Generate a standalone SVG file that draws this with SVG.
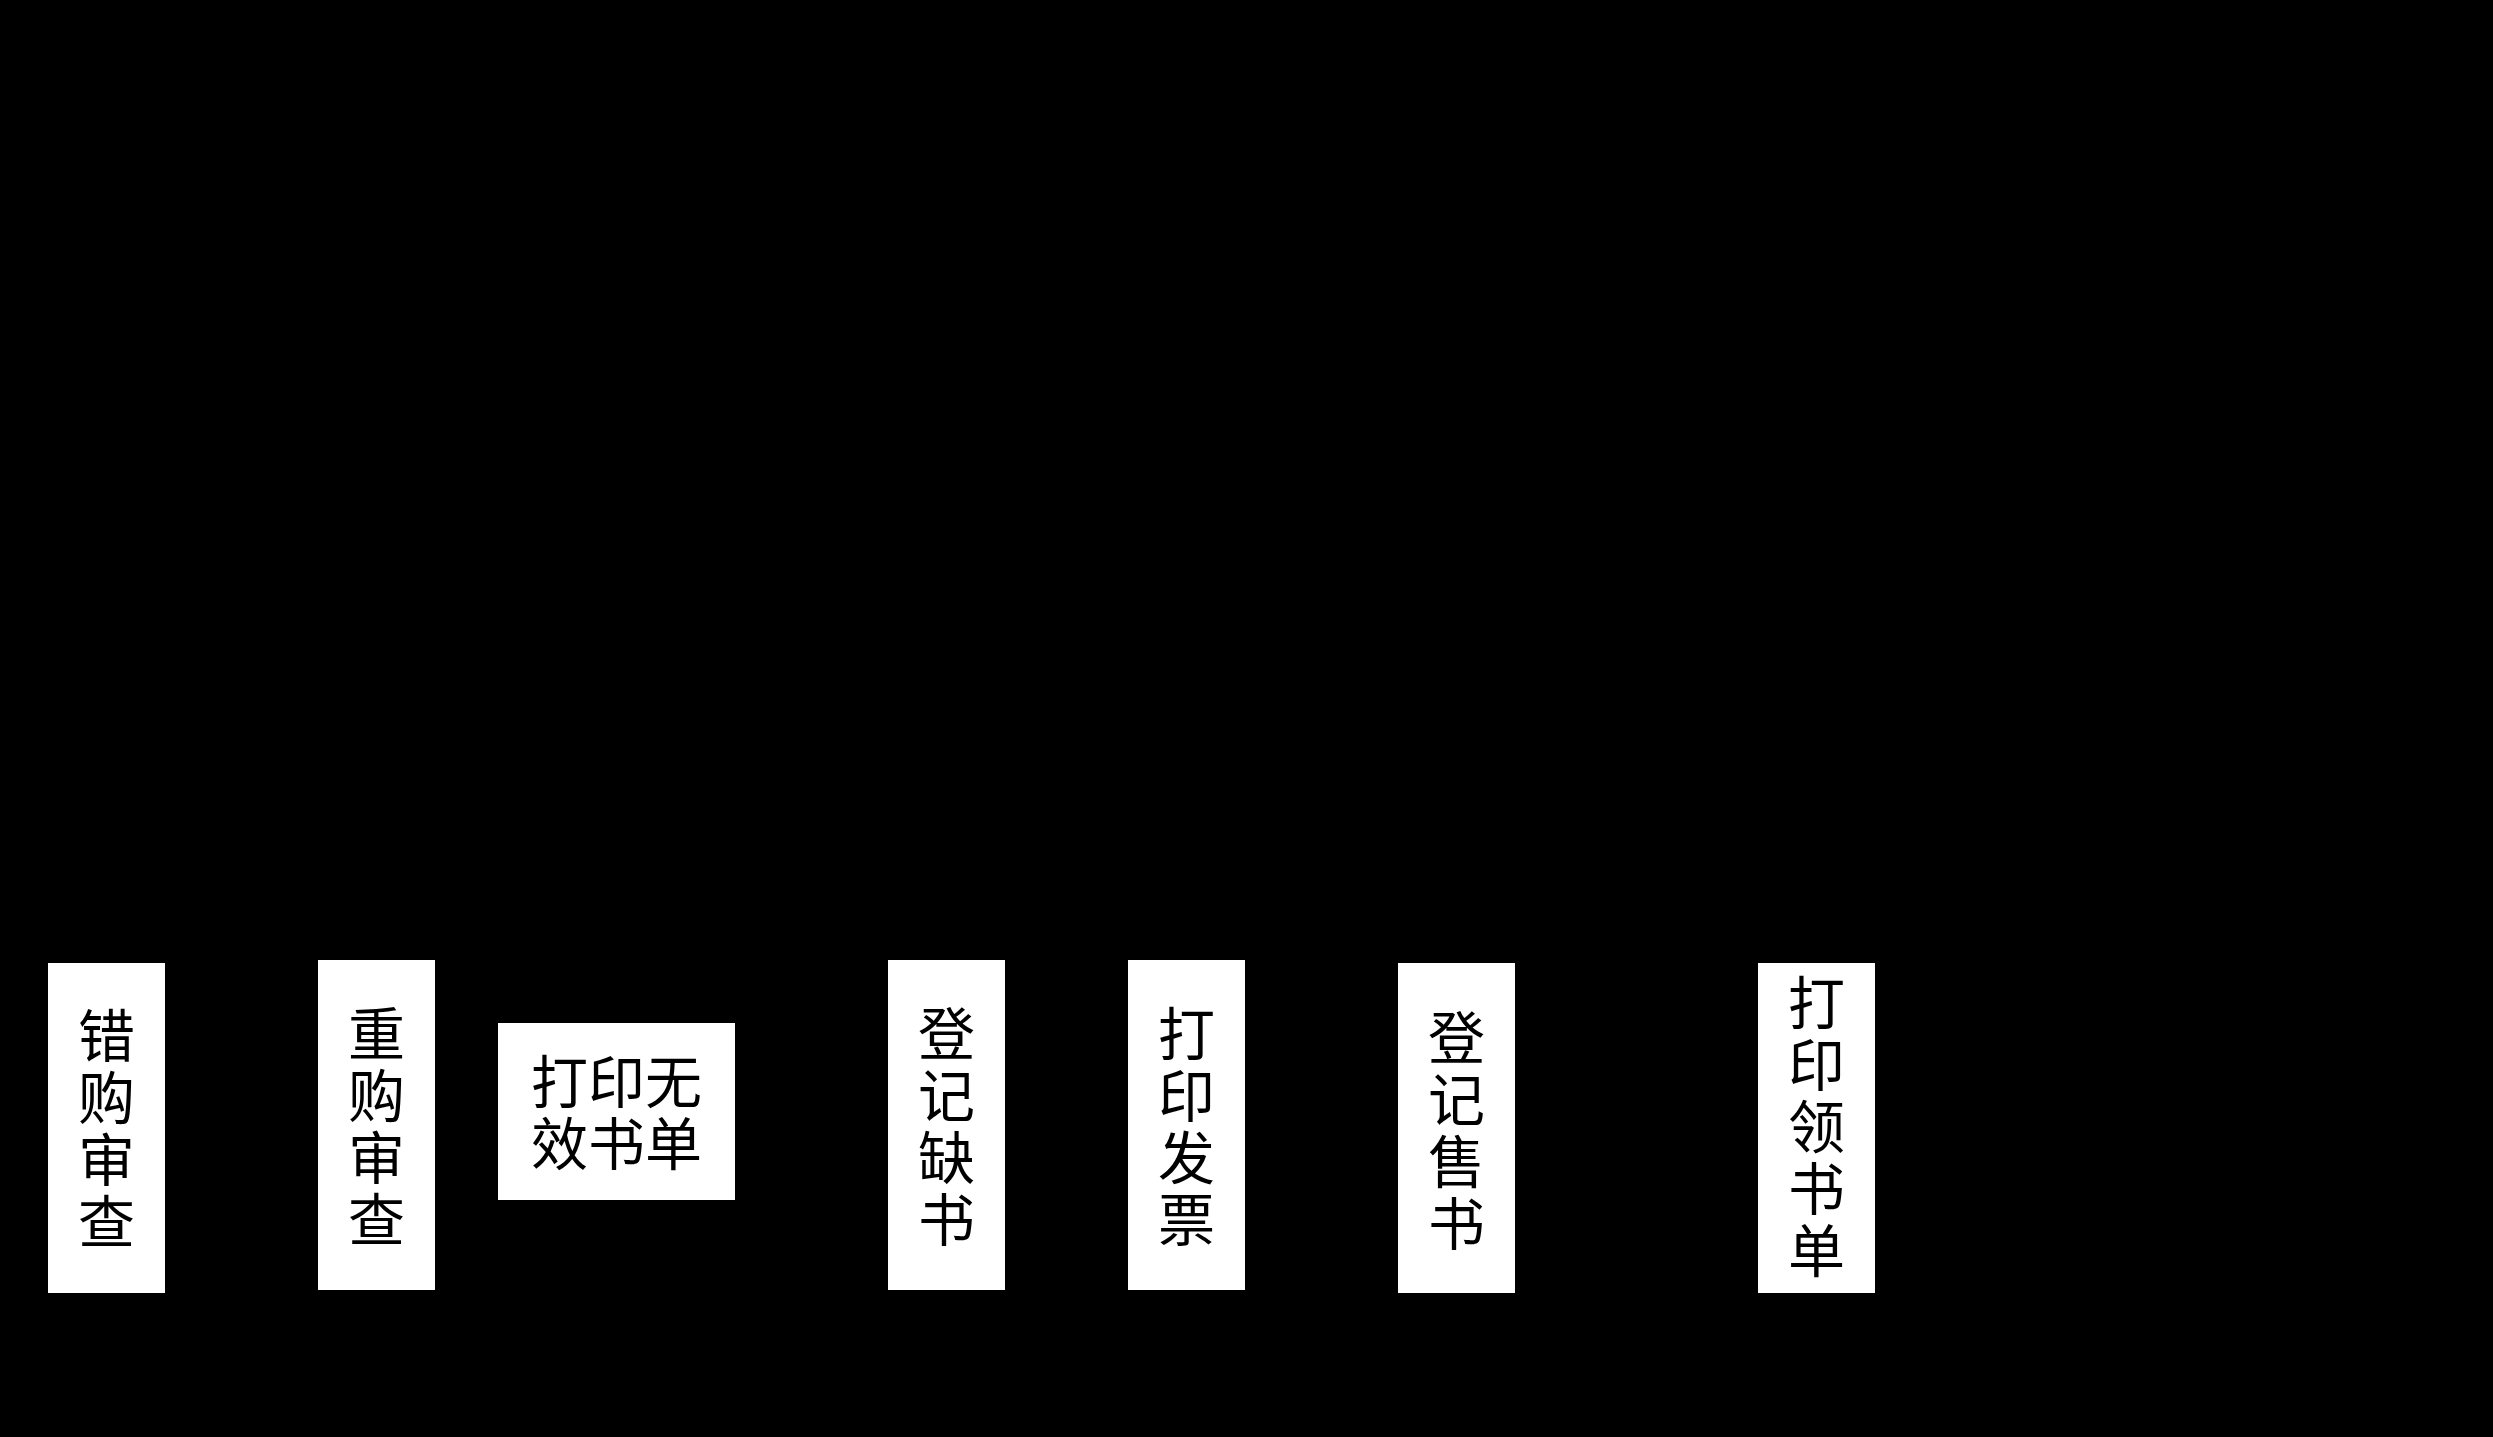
<svg xmlns="http://www.w3.org/2000/svg" width="2493" height="1437" viewBox="0 0 2493 1437">
<style>
.box{fill:#ffffff;stroke:none}
.lbl{font-family:"Noto Sans CJK SC","Noto Sans",sans-serif;font-size:57px;fill:#000000;text-anchor:middle;dominant-baseline:central}
</style>
<rect x="0" y="0" width="2493" height="1437" fill="#000000"/>
<g id="connectors"></g>
<g id="node-cuogou">
<rect class="box" x="48" y="963" width="117" height="330"/>
<text class="lbl"><tspan x="106.5" y="1032">错</tspan><tspan x="106.5" y="1094">购</tspan><tspan x="106.5" y="1156">审</tspan><tspan x="106.5" y="1218">查</tspan></text>
</g>
<g id="node-chonggou">
<rect class="box" x="318" y="960" width="117" height="330"/>
<text class="lbl"><tspan x="376.5" y="1030">重</tspan><tspan x="376.5" y="1092">购</tspan><tspan x="376.5" y="1154">审</tspan><tspan x="376.5" y="1216">查</tspan></text>
</g>
<g id="node-wuxiao">
<rect class="box" x="498" y="1023" width="237" height="177"/>
<text class="lbl"><tspan x="616.5" y="1078">打印无</tspan><tspan x="616.5" y="1140">效书单</tspan></text>
</g>
<g id="node-queshu">
<rect class="box" x="888" y="960" width="117" height="330"/>
<text class="lbl"><tspan x="946.5" y="1030">登</tspan><tspan x="946.5" y="1092">记</tspan><tspan x="946.5" y="1154">缺</tspan><tspan x="946.5" y="1216">书</tspan></text>
</g>
<g id="node-fapiao">
<rect class="box" x="1128" y="960" width="117" height="330"/>
<text class="lbl"><tspan x="1186.5" y="1030">打</tspan><tspan x="1186.5" y="1092">印</tspan><tspan x="1186.5" y="1154">发</tspan><tspan x="1186.5" y="1216">票</tspan></text>
</g>
<g id="node-shoushu">
<rect class="box" x="1398" y="963" width="117" height="330"/>
<text class="lbl"><tspan x="1456.5" y="1034">登</tspan><tspan x="1456.5" y="1096">记</tspan><tspan x="1456.5" y="1158">售</tspan><tspan x="1456.5" y="1220">书</tspan></text>
</g>
<g id="node-lingshu">
<rect class="box" x="1758" y="963" width="117" height="330"/>
<text class="lbl"><tspan x="1816.5" y="999">打</tspan><tspan x="1816.5" y="1061">印</tspan><tspan x="1816.5" y="1123">领</tspan><tspan x="1816.5" y="1185">书</tspan><tspan x="1816.5" y="1247">单</tspan></text>
</g>
</svg>
